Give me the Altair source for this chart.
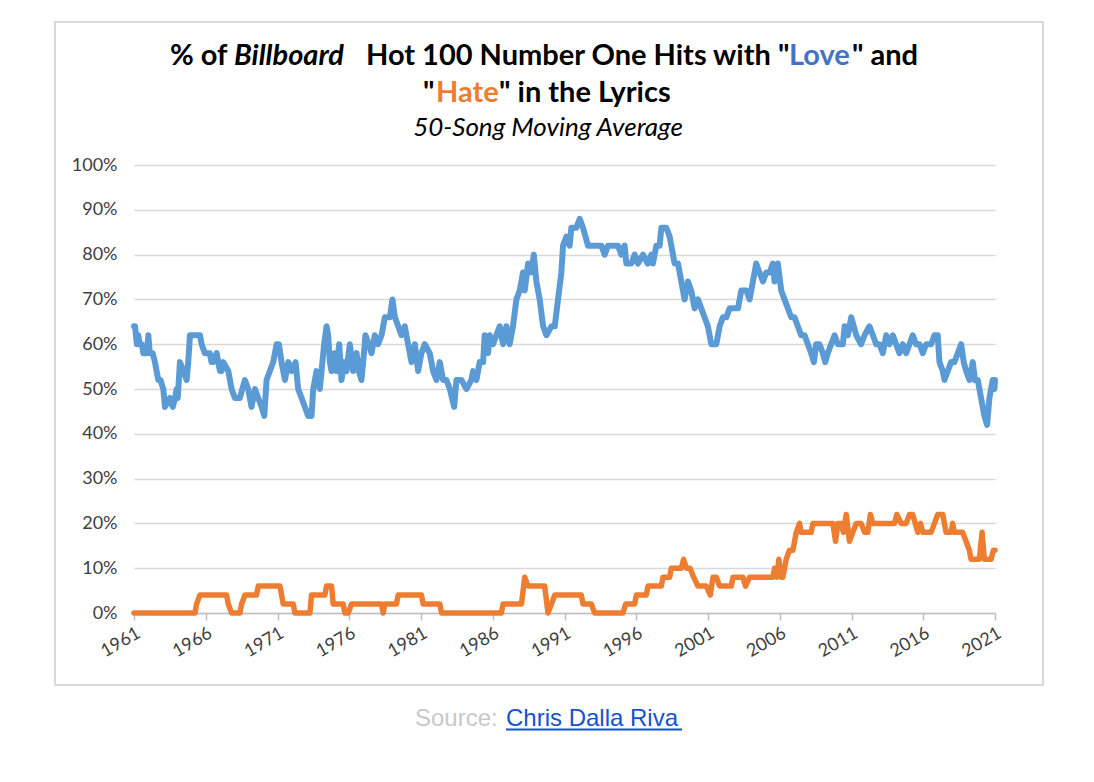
import altair as alt
import pandas as pd

# ---- data ----
love_year = [1961.0, 1961.07, 1961.2, 1961.3, 1961.4, 1961.55, 1961.65, 1961.9, 1962.0, 1962.1,
             1962.3, 1962.46, 1962.69, 1962.85, 1963.04, 1963.16, 1963.5, 1963.7, 1963.86, 1963.97,
             1964.05, 1964.2, 1964.44, 1964.67, 1964.78, 1964.9, 1965.6, 1965.71, 1965.94, 1966.29,
             1966.4, 1966.52, 1966.76, 1966.99, 1967.1, 1967.22, 1967.57, 1967.8, 1968.03, 1968.38,
             1968.55, 1968.73, 1968.96, 1969.19, 1969.43, 1969.66, 1969.89, 1970.08, 1970.24, 1970.47,
             1970.7, 1970.94, 1971.1, 1971.28, 1971.52, 1971.75, 1971.98, 1972.26, 1972.44, 1972.68,
             1972.91, 1973.14, 1973.37, 1973.49, 1973.72, 1973.95, 1974.07, 1974.25, 1974.42, 1974.53,
             1974.65, 1974.77, 1974.95, 1975.11, 1975.3, 1975.46, 1975.65, 1975.81, 1976.04, 1976.27,
             1976.51, 1976.67, 1976.85, 1976.97, 1977.13, 1977.36, 1977.55, 1977.78, 1978.01, 1978.25,
             1978.48, 1978.83, 1979.01, 1979.18, 1979.41, 1979.64, 1979.87, 1980.1, 1980.34, 1980.57,
             1980.8, 1981.03, 1981.26, 1981.61, 1981.84, 1982.08, 1982.31, 1982.54, 1982.77, 1983.01,
             1983.31, 1983.47, 1983.82, 1984.17, 1984.51, 1984.63, 1984.86, 1985.09, 1985.33, 1985.44,
             1985.67, 1985.79, 1986.02, 1986.25, 1986.49, 1986.72, 1986.95, 1987.18, 1987.41, 1987.65,
             1987.88, 1988.11, 1988.23, 1988.46, 1988.69, 1988.86, 1989.04, 1989.27, 1989.51, 1989.74,
             1990.09, 1990.32, 1990.55, 1990.78, 1990.9, 1991.13, 1991.36, 1991.48, 1991.83, 1992.06,
             1992.29, 1992.64, 1992.87, 1993.57, 1993.8, 1994.03, 1994.73, 1994.96, 1995.19, 1995.31,
             1995.66, 1995.89, 1996.12, 1996.47, 1996.8, 1997.05, 1997.16, 1997.4, 1997.63, 1997.75,
             1998.09, 1998.33, 1998.56, 1998.67, 1998.91, 1999.14, 1999.37, 1999.6, 1999.83, 2000.07,
             2000.3, 2000.53, 2000.76, 2000.99, 2001.23, 2001.58, 2001.81, 2002.04, 2002.27, 2002.51,
             2002.85, 2003.09, 2003.32, 2003.67, 2003.9, 2004.13, 2004.36, 2004.59, 2004.83, 2005.06,
             2005.29, 2005.52, 2005.64, 2005.87, 2006.1, 2006.33, 2006.57, 2006.8, 2007.03, 2007.26,
             2007.49, 2007.73, 2007.96, 2008.19, 2008.38, 2008.54, 2008.77, 2009.0, 2009.17, 2009.35,
             2009.58, 2009.82, 2010.05, 2010.4, 2010.52, 2010.75, 2010.98, 2011.16, 2011.33, 2011.67,
             2011.91, 2012.25, 2012.49, 2012.72, 2012.95, 2013.18, 2013.42, 2013.65, 2013.88, 2014.11,
             2014.34, 2014.57, 2014.81, 2015.04, 2015.27, 2015.5, 2015.74, 2015.97, 2016.2, 2016.55,
             2016.78, 2017.01, 2017.13, 2017.36, 2017.48, 2017.71, 2017.94, 2018.17, 2018.41, 2018.64,
             2018.82, 2018.99, 2019.22, 2019.45, 2019.61, 2019.8, 2020.03, 2020.26, 2020.45, 2020.61,
             2020.84, 2020.96, 2021.0]
love_pct = [64, 64, 60, 62, 60, 60, 58, 58, 62, 58,
            58, 56, 52, 52, 50, 46, 48, 46, 48, 50,
            48, 56, 54, 52, 56, 62, 62, 60, 58, 58,
            56, 56, 58, 54, 54, 56, 54, 50, 48, 48,
            50, 52, 50, 46, 50, 48, 46, 44, 52, 54,
            56, 60, 60, 56, 52, 56, 54, 56, 50, 48,
            46, 44, 44, 50, 54, 50, 54, 60, 64, 62,
            56, 54, 58, 54, 60, 52, 56, 54, 60, 54,
            58, 54, 52, 56, 62, 60, 58, 62, 60, 62,
            66, 66, 70, 66, 64, 62, 64, 60, 56, 60,
            54, 58, 60, 58, 54, 52, 56, 52, 52, 50,
            46, 52, 52, 50, 52, 54, 52, 56, 56, 62,
            58, 62, 60, 62, 64, 60, 64, 60, 64, 70,
            72, 76, 72, 78, 76, 80, 74, 70, 64, 62,
            64, 64, 70, 76, 82, 84, 82, 86, 86, 88,
            86, 82, 82, 82, 80, 82, 82, 80, 82, 78,
            78, 80, 78, 80, 78, 80, 78, 82, 82, 86,
            86, 84, 80, 78, 78, 74, 70, 74, 72, 68,
            70, 68, 66, 64, 60, 60, 64, 66, 66, 68,
            68, 68, 72, 72, 70, 74, 78, 76, 74, 76,
            76, 78, 74, 78, 72, 70, 68, 66, 66, 64,
            62, 62, 60, 58, 56, 60, 60, 58, 56, 58,
            60, 62, 60, 60, 64, 62, 66, 64, 62, 60,
            62, 64, 62, 60, 60, 58, 62, 60, 62, 60,
            58, 60, 58, 60, 62, 60, 60, 58, 60, 60,
            62, 62, 56, 54, 52, 54, 56, 56, 58, 60,
            56, 54, 52, 56, 52, 52, 48, 44, 42, 48,
            52, 50, 52]

hate_year = [1961.0, 1965.25, 1965.36, 1965.6, 1967.45, 1967.57, 1967.8, 1968.38, 1968.5, 1968.73,
             1969.54, 1969.66, 1971.17, 1971.4, 1972.1, 1972.21, 1973.26, 1973.37, 1974.3, 1974.42,
             1974.77, 1974.88, 1975.58, 1975.69, 1975.93, 1976.16, 1978.25, 1978.36, 1978.48, 1979.29,
             1979.41, 1981.03, 1981.15, 1982.31, 1982.43, 1986.6, 1986.72, 1988.0, 1988.23, 1988.46,
             1989.62, 1989.85, 1990.09, 1990.32, 1992.17, 1992.29, 1992.87, 1993.1, 1995.08, 1995.26,
             1995.89, 1996.01, 1996.7, 1996.82, 1997.75, 1997.86, 1998.33, 1998.44, 1999.14, 1999.3,
             1999.49, 1999.75, 2000.0, 2000.3, 2000.88, 2001.16, 2001.35, 2001.58, 2001.81, 2002.62,
             2002.74, 2003.43, 2003.62, 2003.9, 2005.52, 2005.64, 2005.8, 2005.94, 2006.1, 2006.22,
             2006.45, 2006.68, 2006.92, 2007.15, 2007.38, 2007.49, 2008.19, 2008.31, 2009.7, 2009.89,
             2010.05, 2010.28, 2010.44, 2010.63, 2010.86, 2011.09, 2011.33, 2011.67, 2011.91, 2012.14,
             2012.32, 2012.49, 2014.0, 2014.16, 2014.46, 2014.81, 2015.04, 2015.27, 2015.62, 2015.81,
             2015.97, 2016.55, 2016.78, 2017.01, 2017.36, 2017.59, 2017.94, 2018.05, 2018.17, 2018.75,
             2018.98, 2019.21, 2019.33, 2019.91, 2020.1, 2020.26, 2020.73, 2020.89, 2021.0]
hate_pct = [0, 0, 2, 4, 4, 2, 0, 0, 2, 4,
            4, 6, 6, 2, 2, 0, 0, 4, 4, 6,
            6, 2, 2, 0, 0, 2, 2, 0, 2, 2,
            4, 4, 2, 2, 0, 0, 2, 2, 8, 6,
            6, 0, 2, 4, 4, 2, 2, 0, 0, 2,
            2, 4, 4, 6, 6, 8, 8, 10, 10, 12,
            10, 10, 8, 6, 6, 4, 8, 8, 6, 6,
            8, 8, 6, 8, 8, 10, 8, 12, 8, 8,
            12, 14, 14, 18, 20, 18, 18, 20, 20, 16,
            20, 20, 18, 22, 16, 18, 20, 20, 18, 18,
            22, 20, 20, 22, 20, 20, 22, 22, 18, 20,
            18, 18, 20, 22, 22, 18, 18, 20, 18, 18,
            16, 14, 12, 12, 18, 12, 12, 14, 14]

x_ticks = [1961, 1966, 1971, 1976, 1981, 1986, 1991, 1996, 2001, 2006, 2011, 2016, 2021]
y_ticks = [0, 10, 20, 30, 40, 50, 60, 70, 80, 90, 100]

LOVE_LINE = "#5B9BD5"
HATE_LINE = "#ED7D31"
LOVE_TXT = "#4472C4"
HATE_TXT = "#ED7D31"
FONT = "Lato"

love_df = pd.DataFrame({"year": love_year, "pct": love_pct})
hate_df = pd.DataFrame({"year": hate_year, "pct": hate_pct})

xenc = alt.X("year:Q",
             scale=alt.Scale(domain=[1961, 2021], nice=False, zero=False),
             axis=alt.Axis(values=x_ticks, format="d", title=None, grid=False,
                           labelAngle=-30, labelAlign="right", labelBaseline="top",
                           labelFont=FONT, labelFontSize=18, labelColor="#404040",
                           labelPadding=4, labelOverlap=False, labelFlush=False,
                           domainColor="#bfbfbf", domainWidth=1.5,
                           tickColor="#bfbfbf", tickWidth=1.5, tickSize=7))
yenc = alt.Y("pct:Q",
             scale=alt.Scale(domain=[0, 100], nice=False),
             axis=alt.Axis(values=y_ticks, title=None, labelExpr="datum.value + '%'",
                           domain=False, ticks=False, labelPadding=17,
                           labelFont=FONT, labelFontSize=18, labelColor="#404040",
                           gridColor="#d9d9d9", gridWidth=1.5))

love_line = alt.Chart(love_df).mark_line(color=LOVE_LINE, strokeWidth=6,
                                         strokeJoin="round", strokeCap="round").encode(x=xenc, y=yenc)
hate_line = alt.Chart(hate_df).mark_line(color=HATE_LINE, strokeWidth=5.5,
                                         strokeJoin="round", strokeCap="round").encode(x="year:Q", y="pct:Q")


def txt(s, x, y, size, color="black", weight="bold", style="normal", align="left", font=FONT):
    return alt.Chart(pd.DataFrame({"t": [s]})).mark_text(
        align=align, baseline="alphabetic", font=font, fontSize=size,
        fontWeight=weight, fontStyle=style, color=color
    ).encode(x=alt.value(x), y=alt.value(y), text="t:N")


# plot area origin on page: (134, 165)
T1 = -100
T2 = -63
TS = 29
title_layers = [
    txt("% of", 36, T1, TS),
    txt("Billboard", 100, T1, TS, style="italic"),
    txt("Hot 100 Number One Hits with \"", 232, T1, TS),
    txt("Love", 655, T1, TS, color=LOVE_TXT),
    txt("\" and", 718, T1, TS),
    txt("\"", 289, T2, TS),
    txt("Hate", 302, T2, TS, color=HATE_TXT),
    txt("\" in the Lyrics", 365, T2, TS),
    txt("50-Song Moving Average", 414, -29, 26, weight="normal", style="italic", align="center"),
    txt("Source:", 281, 561, 24, color="#c8c8c8", weight="normal", font="Liberation Sans"),
    txt("Chris Dalla Riva", 372, 561, 24, color="#1552d0", weight="normal", font="Liberation Sans"),
]

underline = alt.Chart(pd.DataFrame({"t": [0]})).mark_rule(color="#1552d0", strokeWidth=2).encode(
    x=alt.value(372), x2=alt.value(548), y=alt.value(564.5))

frame = alt.Chart(pd.DataFrame({"t": [0]})).mark_rect(filled=False, stroke="#d9d9d9", strokeWidth=2).encode(
    x=alt.value(-79), x2=alt.value(909), y=alt.value(-143), y2=alt.value(520))

chart = alt.layer(frame, love_line, hate_line, *title_layers, underline).properties(
    width=861, height=448,
    autosize=alt.AutoSizeParams(type="none"),
    padding={"left": 126, "top": 157, "right": 60, "bottom": 140},
    background="white",
).configure_view(stroke=None)

chart.save("out.html", embed_options={"renderer": "svg", "actions": False})
